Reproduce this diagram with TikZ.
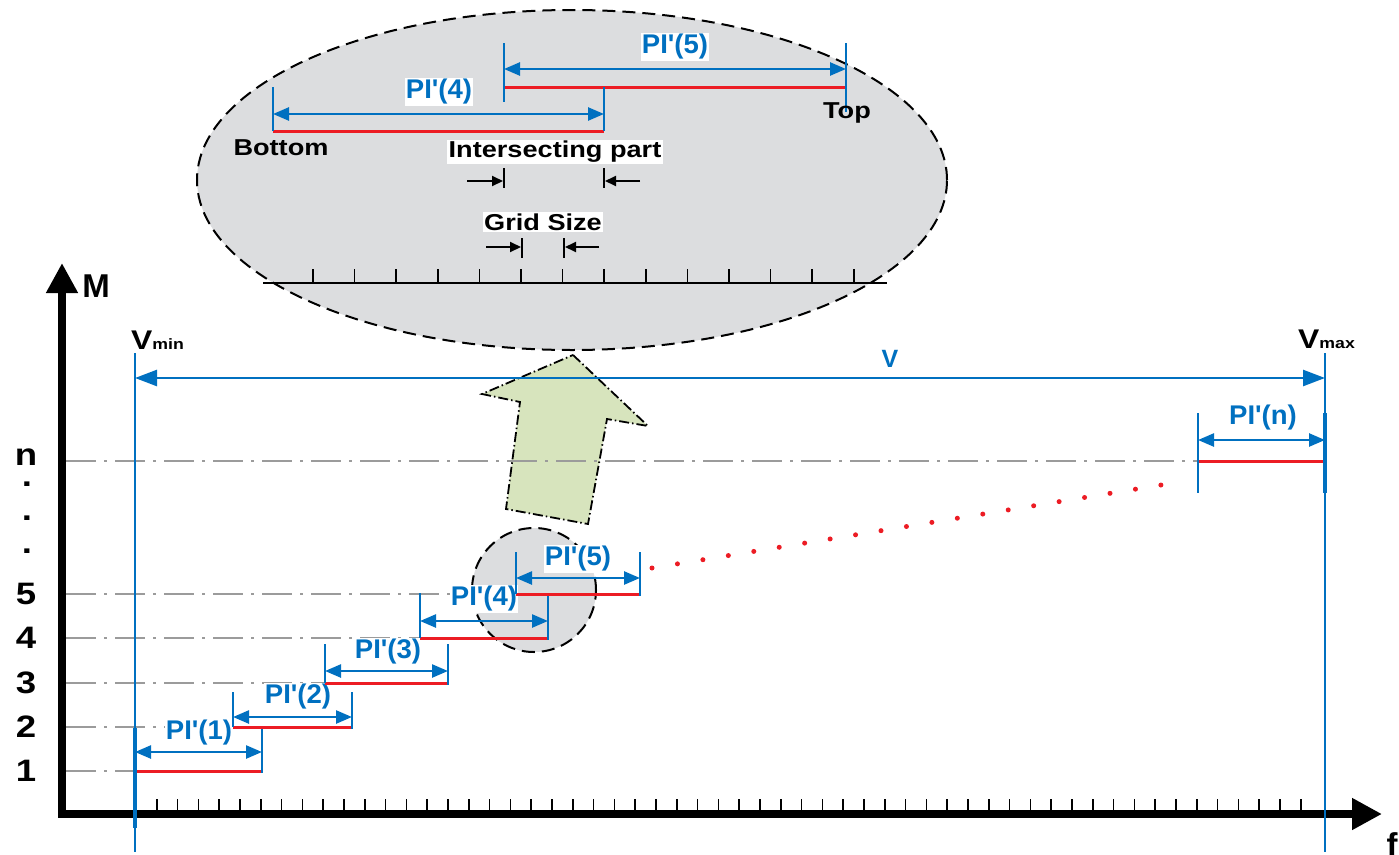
\documentclass[tikz,border=0pt]{standalone}
\usepackage{fontspec}
\setmainfont{Liberation Sans}
\newfontfamily\lab[FakeStretch=1.18,Ligatures=TeXOff]{Liberation Sans}
\newfontfamily\plabfont[FakeStretch=1.02,Ligatures=TeXOff]{Liberation Sans}
\usetikzlibrary{arrows.meta,shapes.geometric}
\definecolor{cblue}{RGB}{0,112,192}
\definecolor{cred}{RGB}{236,28,36}
\definecolor{cgray}{RGB}{155,155,155}
\definecolor{cfill}{RGB}{220,221,223}
\definecolor{cgreen}{RGB}{215,228,189}
\tikzset{
  axisline/.style={line width=8pt, line join=miter, {Triangle[length=30pt,width=30pt]}-{Triangle[length=30pt,width=30pt]}},
  levelline/.style={cgray, line width=2.5pt, dash pattern=on 30pt off 8pt on 3pt off 8pt},
  redseg/.style={cred, line width=3pt},
  bluetick/.style={cblue, line width=2pt},
  vline/.style={cblue, line width=2pt},
  dimarrow/.style={cblue, line width=2.5pt, {Triangle[length=16pt,width=13pt]}-{Triangle[length=16pt,width=13pt]}},
  plab/.style={font=\plabfont\bfseries\fontsize{27}{27}\selectfont, text=cblue, fill=white, inner sep=1pt},
  blab/.style={font=\lab\bfseries\fontsize{23}{23}\selectfont, text=black, inner sep=1pt},
  wlab/.style={blab, fill=white, inner sep=1.5pt},
  ylab/.style={font=\lab\bfseries\fontsize{31}{31}\selectfont, inner sep=0pt},
  blk/.style={line width=2pt, -{Triangle[length=11pt,width=10pt]}},
  blktick/.style={line width=1.8pt},
  xtick/.style={line width=1.6pt},
  zoomshape/.style={draw, fill=cfill, line width=2pt, dash pattern=on 13pt off 7pt},
}
\begin{document}
\begin{tikzpicture}[x=1pt,y=-1pt]
\useasboundingbox (0,0) rectangle (1399,854);

% ---------- magnified view (background) ----------
\node[zoomshape, ellipse, minimum width=750pt, minimum height=340pt, inner sep=0pt] (big) at (572,180) {};
\node[zoomshape, circle, minimum size=124pt, inner sep=0pt] (small) at (534,590) {};

% ---------- green arrow ----------
\coordinate (g1) at (573,355);
\coordinate (g2) at (648,426);
\coordinate (g3) at (607,419);
\coordinate (g4) at (588,524);
\coordinate (g5) at (506,509);
\coordinate (g6) at (520,402);
\coordinate (g7) at (482,394);
\draw[fill=cgreen, line width=1.8pt, dash pattern=on 10pt off 3pt on 1.5pt off 3pt]
  (g1) -- (g2) -- (g3) -- (g4) -- (g5) -- (g6) -- (g7) -- cycle;

% ---------- axes ----------
\coordinate (ytip) at (62,263);
\coordinate (orig) at (62,814);
\coordinate (xtip) at (1382,814);
\foreach \i in {0,...,56} {
  \coordinate (xt\i) at ({136+20.8*\i},799);
  \coordinate (xb\i) at ({136+20.8*\i},812);
  \draw[xtick] (xt\i) -- (xb\i);
}
\draw[axisline] (ytip) -- (orig) -- (xtip);
\node[font=\bfseries\fontsize{33}{33}\selectfont, inner sep=0pt] (M) at (96,286) {M};
\node[font=\bfseries\fontsize{33}{33}\selectfont, inner sep=0pt] (f) at (1392,845) {f};

% ---------- level lines and labels ----------
\foreach \nm/\yy/\xe in {n/461/1198, 5/594/515, 4/638/420, 3/683/325, 2/727/233, 1/771/135} {
  \coordinate (ls\nm) at (66,\yy);
  \coordinate (le\nm) at (\xe,\yy);
  \draw[levelline] (ls\nm) -- (le\nm);
}
\foreach \nm/\yy in {n/457, 5/594, 4/638, 3/683, 2/727, 1/771} {
  \node[ylab] (yl\nm) at (26,\yy) {\nm};
}
\node[ylab, anchor=base] (d1) at (27,486) {.};
\node[ylab, anchor=base] (d2) at (27,520) {.};
\node[ylab, anchor=base] (d3) at (27,553) {.};

% ---------- Vmin / Vmax ----------
\coordinate (vmint) at (135,353);
\coordinate (vminb) at (135,852);
\coordinate (vmaxt) at (1325,353);
\coordinate (vmaxb) at (1325,852);
\draw[vline] (vmint) -- (vminb);
\draw[vline] (vmaxt) -- (vmaxb);
\node[anchor=base west, inner sep=0pt, font=\lab\bfseries] (vmin) at (131,349)
  {{\fontsize{27}{27}\selectfont V}{\fontsize{15}{15}\selectfont min}};
\node[anchor=base west, inner sep=0pt, font=\lab\bfseries] (vmax) at (1298,348)
  {{\fontsize{27}{27}\selectfont V}{\fontsize{15}{15}\selectfont max}};
\coordinate (va) at (135,378);
\coordinate (vb) at (1325,378);
\draw[cblue, line width=2.5pt, {Triangle[length=22pt,width=16pt]}-{Triangle[length=22pt,width=16pt]}] (va) -- (vb);
\node[font=\bfseries\fontsize{25}{25}\selectfont, text=cblue, inner sep=0pt] (vlab) at (890,359) {V};

% ---------- intervals ----------
\foreach \n/\xl/\xr/\yr/\ya/\tt/\lx/\ly in {
   1/135/262/771/752/728/199/733,
   2/233/352/727/717/692/298/697,
   3/325/448/683/671/644/388/652,
   4/420/548/638/621/593/484/599,
   5/516/640/594/578/552/578/559} {
  \coordinate (L\n) at (\xl,\yr);
  \coordinate (R\n) at (\xr,\yr);
  \coordinate (LT\n) at (\xl,\tt);
  \coordinate (RT\n) at (\xr,\tt);
  \coordinate (RB\n) at (\xr,\yr+2);
  \coordinate (AL\n) at (\xl,\ya);
  \coordinate (AR\n) at (\xr,\ya);
  \draw[redseg] (L\n) -- (R\n);
  \draw[bluetick] (LT\n) -- (L\n);
  \draw[bluetick] (RT\n) -- (RB\n);
  \draw[dimarrow] (AL\n) -- (AR\n);
  \node[plab] (P\n) at (\lx,\ly) {PI'(\n)};
}
% thicker start of interval 1 on the Vmin line
\coordinate (v1a) at (135,728);
\coordinate (v1b) at (135,828);
\draw[cblue, line width=3.2pt] (v1a) -- (v1b);

% interval n
\coordinate (Ln) at (1198,461);
\coordinate (Rn) at (1325,461);
\coordinate (LTn) at (1198,413);
\coordinate (LBn) at (1198,493);
\coordinate (RTn) at (1325,413);
\coordinate (RBn) at (1325,493);
\coordinate (ALn) at (1198,440);
\coordinate (ARn) at (1325,440);
\draw[redseg] (Ln) -- (Rn);
\draw[bluetick] (LTn) -- (LBn);
\draw[cblue, line width=3.2pt] (RTn) -- (RBn);
\draw[dimarrow] (ALn) -- (ARn);
\node[plab] (Pn) at (1263,418) {PI'(n)};

% red dotted continuation
\coordinate (dotA) at (652,568);
\coordinate (dotB) at (1161,485);
\draw[cred, line width=5pt, line cap=round, dash pattern=on 0pt off 25.78pt] (dotA) -- (dotB);

% ---------- inside the magnified view ----------
% PI'(5)
\coordinate (bL5) at (504,87);
\coordinate (bR5) at (846,87);
\coordinate (bLT5) at (504,43);
\coordinate (bLB5) at (504,102);
\coordinate (bRT5) at (846,43);
\coordinate (bRB5) at (846,112);
\coordinate (bAL5) at (504,69);
\coordinate (bAR5) at (846,69);
\draw[redseg] (bL5) -- (bR5);
\draw[bluetick] (bLT5) -- (bLB5);
\draw[bluetick] (bRT5) -- (bRB5);
\draw[dimarrow] (bAL5) -- (bAR5);
\node[plab] (bP5) at (675,47) {PI'(5)};
% PI'(4)
\coordinate (bL4) at (273,131);
\coordinate (bR4) at (604,131);
\coordinate (bLT4) at (273,87);
\coordinate (bRT4) at (604,87);
\coordinate (bAL4) at (273,114);
\coordinate (bAR4) at (604,114);
\draw[redseg] (bL4) -- (bR4);
\draw[bluetick] (bLT4) -- (bL4);
\draw[bluetick] (bRT4) -- (bR4);
\draw[dimarrow] (bAL4) -- (bAR4);
\node[plab] (bP4) at (439,92) {PI'(4)};
\node[blab] (bottom) at (281,148) {Bottom};
\node[blab] (top) at (847,113) {Top};
\node[wlab] (inter) at (555,152) {Intersecting part};
\node[wlab] (grid) at (543,222) {Grid Size};

% intersecting part markers
\coordinate (it1) at (504,168); \coordinate (ib1) at (504,188);
\coordinate (it2) at (604,168); \coordinate (ib2) at (604,188);
\coordinate (ia1) at (467,181); \coordinate (ia2) at (503,181);
\coordinate (ic1) at (640,181); \coordinate (ic2) at (605,181);
\draw[blktick] (it1) -- (ib1);
\draw[blktick] (it2) -- (ib2);
\draw[blk] (ia1) -- (ia2);
\draw[blk] (ic1) -- (ic2);
% grid size markers
\coordinate (gt1) at (522,238); \coordinate (gb1) at (522,258);
\coordinate (gt2) at (564,238); \coordinate (gb2) at (564,258);
\coordinate (ga1) at (486,247); \coordinate (ga2) at (521,247);
\coordinate (gc1) at (599,247); \coordinate (gc2) at (565,247);
\draw[blktick] (gt1) -- (gb1);
\draw[blktick] (gt2) -- (gb2);
\draw[blk] (ga1) -- (ga2);
\draw[blk] (gc1) -- (gc2);

% ruler
\coordinate (rs) at (263,283);
\coordinate (re) at (887,283);
\draw[line width=2.5pt] (rs) -- (re);
\foreach \i in {0,...,13} {
  \coordinate (rt\i) at ({313+41.6*\i},269);
  \coordinate (rb\i) at ({313+41.6*\i},283);
  \draw[line width=1.6pt] (rt\i) -- (rb\i);
}
\end{tikzpicture}
\end{document}
